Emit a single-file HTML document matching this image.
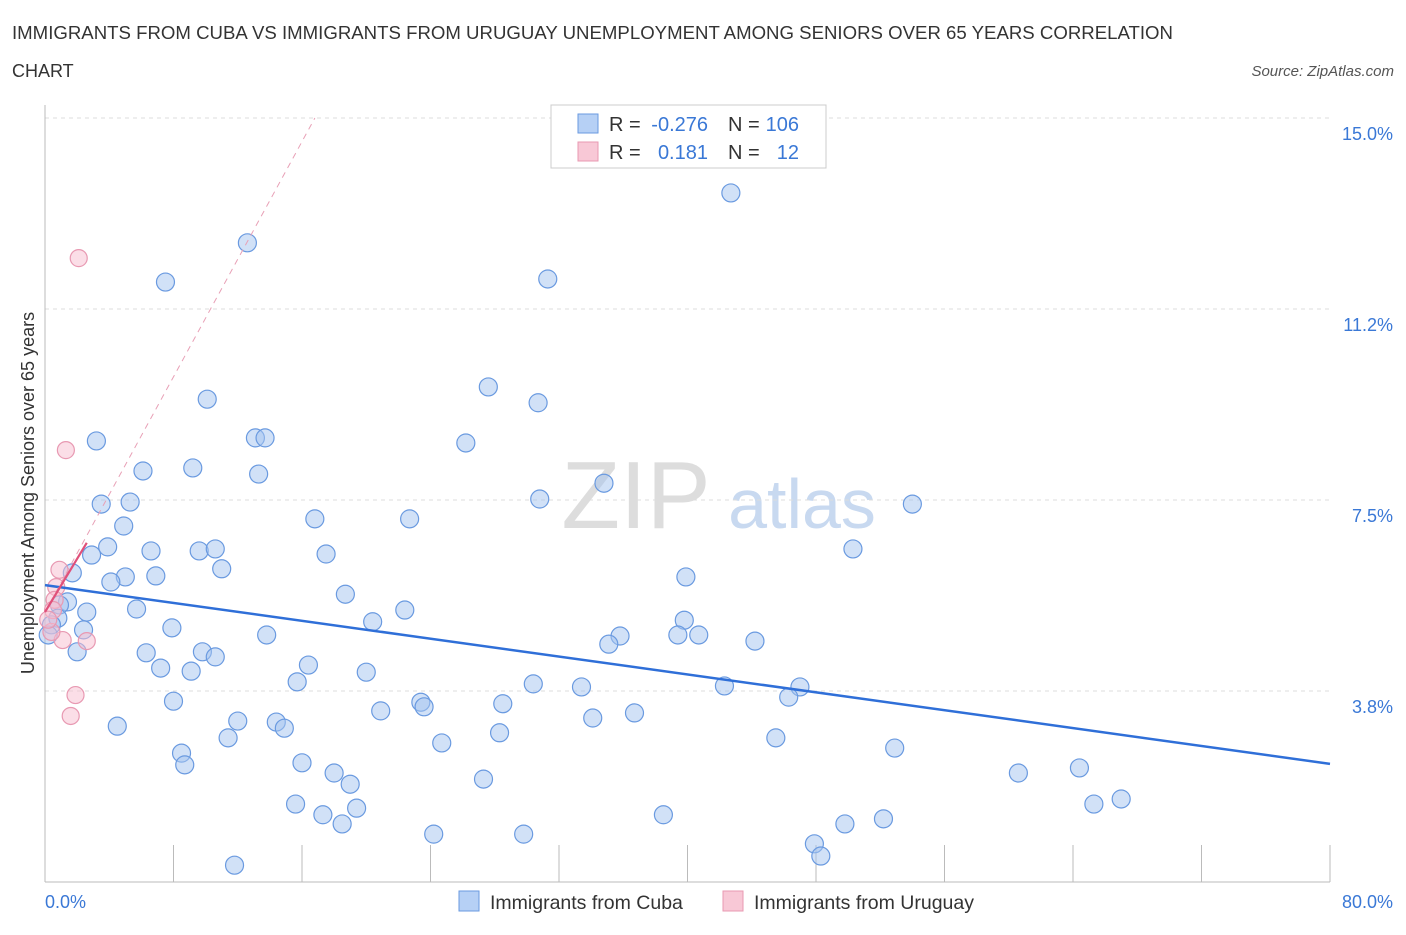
<!DOCTYPE html>
<html><head><meta charset="utf-8"><style>
body{margin:0;background:#fff;font-family:"Liberation Sans",sans-serif}
svg text{font-family:"Liberation Sans",sans-serif}
</style></head><body>
<svg width="1406" height="930">
<text x="12" y="39" font-size="18" fill="#333" textLength="1161" lengthAdjust="spacingAndGlyphs">IMMIGRANTS FROM CUBA VS IMMIGRANTS FROM URUGUAY UNEMPLOYMENT AMONG SENIORS OVER 65 YEARS CORRELATION</text>
<text x="12" y="77" font-size="18" fill="#333">CHART</text>
<text x="1394" y="76" font-size="15" fill="#555" font-style="italic" text-anchor="end">Source: ZipAtlas.com</text>
<text x="636" y="528" font-size="96" fill="#ddd" font-family="Liberation Serif" text-anchor="middle">ZIP</text>
<text x="802" y="528" font-size="70" fill="#c8d9f0" text-anchor="middle">atlas</text>
<g id="grid"></g><g id="ticks"></g>
<line x1="45" y1="105" x2="45" y2="882" stroke="#bbb"/>
<line x1="45" y1="882" x2="1330" y2="882" stroke="#bbb"/>
<text x="34" y="493" font-size="18" fill="#333" text-anchor="middle" transform="rotate(-90 34 493)">Unemployment Among Seniors over 65 years</text>
<text x="45" y="908" font-size="18" fill="#3a78d6">0.0%</text>
<text x="1393" y="908" font-size="18" fill="#3a78d6" text-anchor="end">80.0%</text>
<g id="pts"></g><g id="lines"></g>
<g font-size="20">
<rect x="551" y="105" width="275" height="63" fill="#fff" stroke="#ccc"/>
<rect x="578" y="114" width="20" height="19" fill="#b6d0f5" stroke="#6a9ae0"/>
<rect x="578" y="142" width="20" height="19" fill="#f8c8d6" stroke="#e899b2"/>
<text x="609" y="131" fill="#333">R =</text>
<text x="708" y="131" fill="#3a78d6" text-anchor="end">-0.276</text>
<text x="728" y="131" fill="#333">N =</text>
<text x="799" y="131" fill="#3a78d6" text-anchor="end">106</text>
<text x="609" y="159" fill="#333">R =</text>
<text x="708" y="159" fill="#3a78d6" text-anchor="end">0.181</text>
<text x="728" y="159" fill="#333">N =</text>
<text x="799" y="159" fill="#3a78d6" text-anchor="end">12</text>
</g>
<g>
<rect x="459" y="891" width="20" height="20" fill="#b6d0f5" stroke="#6a9ae0"/>
<text x="490" y="909" font-size="19.5" fill="#333">Immigrants from Cuba</text>
<rect x="723" y="891" width="20" height="20" fill="#f8c8d6" stroke="#e899b2"/>
<text x="754" y="909" font-size="19.5" fill="#333">Immigrants from Uruguay</text>
</g>
</svg>
<script>
const cubaX=[42.7,12.6,7.5,31.3,27.6,10.1,30.7,3.2,13.1,13.7,26.2,6.1,9.2,13.3,34.8,30.8,54.0,3.5,5.3,16.8,22.7,4.9,3.9,2.9,6.6,9.6,10.6,17.5,50.3,11.0,1.7,5.0,6.9,4.1,39.9,18.7,1.4,0.9,5.7,2.6,22.4,0.8,20.4,39.8,7.9,35.8,13.8,39.4,40.7,35.1,44.2,2.4,2.0,6.3,9.8,10.6,7.2,9.1,16.4,20.0,15.7,30.4,33.4,42.3,47.0,46.3,8.0,23.4,23.6,28.5,20.9,36.7,34.1,4.5,12.0,14.4,14.9,11.4,28.3,45.5,24.7,8.5,8.7,52.9,16.0,18.0,27.3,60.6,64.4,19.0,65.3,67.0,15.6,19.4,17.3,38.5,18.5,49.8,52.2,24.2,29.8,47.9,48.3,11.8,0.4,0.2];
const cubaY=[13.53,12.55,11.78,11.84,9.72,9.48,9.41,8.66,8.72,8.72,8.62,8.07,8.13,8.01,7.83,7.52,7.42,7.42,7.46,7.13,7.13,6.99,6.58,6.42,6.50,6.50,6.54,6.44,6.54,6.15,6.07,5.99,6.01,5.89,5.99,5.65,5.50,5.44,5.36,5.30,5.34,5.18,5.11,5.14,4.99,4.83,4.85,4.85,4.85,4.67,4.73,4.95,4.52,4.50,4.52,4.42,4.20,4.14,4.26,4.12,3.93,3.89,3.83,3.85,3.83,3.63,3.55,3.53,3.44,3.50,3.36,3.32,3.22,3.06,3.16,3.14,3.02,2.83,2.93,2.83,2.73,2.53,2.30,2.63,2.34,2.14,2.02,2.14,2.24,1.92,1.53,1.63,1.53,1.45,1.32,1.32,1.14,1.14,1.24,0.94,0.94,0.75,0.51,0.33,5.05,4.85];
const uruX=[2.1,1.3,0.9,0.7,0.6,0.5,1.1,2.6,1.9,1.6,0.4,0.2];
const uruY=[12.25,8.48,6.13,5.79,5.54,5.34,4.75,4.73,3.67,3.26,4.91,5.15];
const yTicks=[3.75,7.5,11.25,15.0];
const yTickLabels=["3.8%","7.5%","11.2%","15.0%"];
const cubaTrend=[[0,5.83],[80,2.32]];
const uruTrend=[[0,5.3],[2.6,6.66]];
const uruDash=[[0,5.3],[16.8,15]];
const sx=v=>45+v*16.0625, sy=v=>882-v*50.93;
const NS="http://www.w3.org/2000/svg";
function mk(t,a,p){const e=document.createElementNS(NS,t);for(const k in a)e.setAttribute(k,a[k]);p.appendChild(e);return e;}
const grid=document.getElementById('grid'),ticks=document.getElementById('ticks'),pts=document.getElementById('pts'),lines=document.getElementById('lines');
yTicks.forEach((v,i)=>{
 const l=mk('line',{x1:45,x2:1330,y1:sy(v),y2:sy(v),stroke:'#ddd','stroke-dasharray':'4,4'},grid);
 
 
 const t=mk('text',{x:1393,y:sy(v)+22,'font-size':18,fill:'#3a78d6','text-anchor':'end'},grid);t.textContent=yTickLabels[i];
 
 
});
for(let v=0;v<=80;v+=8){
 const l=mk('line',{x1:sx(v),x2:sx(v),y1:845,y2:882,stroke:'#bbb'},ticks);
 
 
}
cubaX.forEach((x,i)=>{
 const c=mk('circle',{cx:sx(x),cy:sy(cubaY[i]),r:9,fill:'rgba(164,196,240,0.5)',stroke:'#6a9ae0','stroke-width':1.2},pts);
 
 
});
uruX.forEach((x,i)=>{
 const c=mk('circle',{cx:sx(x),cy:sy(uruY[i]),r:8.5,fill:'rgba(248,190,208,0.5)',stroke:'#e899b2','stroke-width':1.2},pts);
 
 
});
const l1=mk('line',{x1:sx(cubaTrend[0][0]),y1:sy(cubaTrend[0][1]),x2:sx(cubaTrend[1][0]),y2:sy(cubaTrend[1][1]),stroke:'#2f6fd8','stroke-width':2.5},lines);


const l2=mk('line',{x1:sx(uruDash[0][0]),y1:sy(uruDash[0][1]),x2:sx(uruDash[1][0]),y2:sy(uruDash[1][1]),stroke:'#e8a0b6','stroke-width':1,'stroke-dasharray':'6,5'},lines);


const l3=mk('line',{x1:sx(uruTrend[0][0]),y1:sy(uruTrend[0][1]),x2:sx(uruTrend[1][0]),y2:sy(uruTrend[1][1]),stroke:'#e0507a','stroke-width':2.2},lines);


</script>
</body></html>
